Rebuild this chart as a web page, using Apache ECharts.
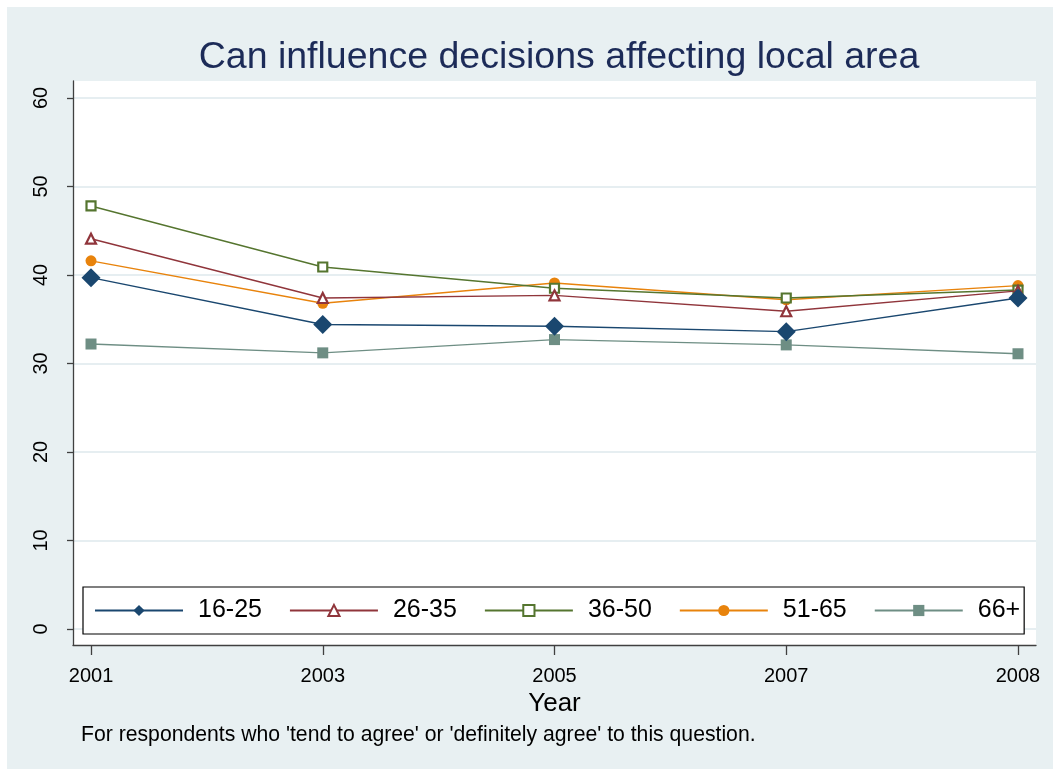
<!DOCTYPE html>
<html>
<head>
<meta charset="utf-8">
<script src="https://cdn.jsdelivr.net/npm/echarts@6/dist/echarts.min.js"></script>
<style>
  html, body { margin: 0; padding: 0; background: #ffffff; }
  #chart { width: 1053px; height: 769px; }
</style>
</head>
<body>
<div id="chart"></div>
<script>
// ---- data ----
const years = ['2001', '2003', '2005', '2007', '2008'];
const yTicks = [0, 10, 20, 30, 40, 50, 60];
const seriesNames = ['16-25', '26-35', '36-50', '51-65', '66+'];
const v16_25 = [39.7, 34.4, 34.2, 33.6, 37.4];
const v26_35 = [44.1, 37.4, 37.7, 35.9, 38.2];
const v36_50 = [47.8, 40.9, 38.5, 37.4, 38.3];
const v51_65 = [41.6, 36.8, 39.1, 37.2, 38.8];
const v66plus = [32.2, 31.2, 32.7, 32.1, 31.1];
const titleText = 'Can influence decisions affecting local area';
const noteText = "For respondents who 'tend to agree' or 'definitely agree' to this question.";
const xTitle = 'Year';

// ---- styles ----
const FONT = 'Liberation Sans, Arial, sans-serif';
const BG = '#e8f0f2';
const styles = [
  { color: '#1a476f', symbol: 'diamond', size: 19, fill: '#1a476f', bw: 0 },
  { color: '#90353b', symbol: 'triangle', size: 10, fill: '#ffffff', bw: 2.2 },
  { color: '#55752f', symbol: 'rect', size: 9, fill: '#ffffff', bw: 2.2 },
  { color: '#e8830c', symbol: 'circle', size: 11, fill: '#e8830c', bw: 0 },
  { color: '#6e8e84', symbol: 'rect', size: 11, fill: '#6e8e84', bw: 0 }
];
const allValues = [v16_25, v26_35, v36_50, v51_65, v66plus];

const xIdx = years.map((_, i) => i);
const series = seriesNames.map((name, k) => ({
  name: name,
  type: 'line',
  data: allValues[k].map((v, i) => [i, v]),
  symbol: styles[k].symbol,
  symbolSize: styles[k].size,
  lineStyle: { color: styles[k].color, width: 1.4 },
  itemStyle: { color: styles[k].fill, borderColor: styles[k].color, borderWidth: styles[k].bw },
  emphasis: { disabled: true },
  z: 5 - k
}));

const chart = echarts.init(document.getElementById('chart'), null, { renderer: 'canvas' });
chart.setOption({
  backgroundColor: '#ffffff',
  animation: false,
  graphic: [{
    type: 'rect', z: -100, silent: true,
    shape: { x: 7, y: 7, width: 1046, height: 762 },
    style: { fill: BG }
  }],
  title: [
    { text: titleText, left: 554, textAlign: 'center', top: 34,
      textStyle: { fontFamily: FONT, fontSize: 37.5, fontWeight: 'normal', color: '#1c2b58' } },
    { text: noteText, left: 76, top: 720,
      textStyle: { fontFamily: FONT, fontSize: 21.2, fontWeight: 'normal', color: '#000000' } }
  ],
  grid: { left: 73, right: 17, top: 81, bottom: 124, show: true, backgroundColor: '#ffffff', borderWidth: 0 },
  xAxis: {
    type: 'value',
    min: -0.0777, max: 4.0777,
    name: xTitle, nameLocation: 'middle', nameGap: 35,
    nameTextStyle: { fontFamily: FONT, fontSize: 26, color: '#000' },
    axisLine: { show: true, onZero: false, lineStyle: { color: '#404040', width: 1.3 } },
    axisTick: { show: true, length: 10, customValues: xIdx, lineStyle: { color: '#404040', width: 1.3 } },
    axisLabel: { customValues: xIdx, margin: 21, fontFamily: FONT, fontSize: 20, color: '#000',
      formatter: v => years[Math.round(v)] },
    splitLine: { show: false }
  },
  yAxis: {
    type: 'value',
    min: -1.81, max: 61.92,
    axisLine: { show: true, onZero: false, lineStyle: { color: '#404040', width: 1.3 } },
    axisTick: { show: true, length: 6, customValues: yTicks, lineStyle: { color: '#404040', width: 1.3 } },
    axisLabel: { customValues: yTicks, rotate: 90, margin: 22, fontFamily: FONT, fontSize: 20, color: '#000' },
    splitLine: { show: true, lineStyle: { color: '#e6eef1', width: 2 } }
  },
  legend: {
    data: seriesNames,
    left: 83, top: 587,
    orient: 'horizontal',
    backgroundColor: '#ffffff',
    borderColor: '#000000', borderWidth: 1.2,
    padding: [11, 4, 11, 11],
    itemWidth: 88, itemHeight: 14, itemGap: 27,
    textStyle: { fontFamily: FONT, fontSize: 25, color: '#000', padding: [0, 0, 0, 10] },
    selectedMode: false
  },
  series: series
});
</script>
</body>
</html>
